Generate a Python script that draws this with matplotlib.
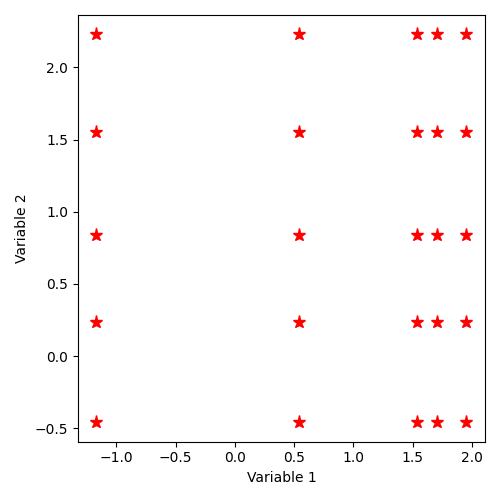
import numpy as np
import matplotlib
matplotlib.use("Agg")
import matplotlib.pyplot as plt

x_levels = [-1.17, 0.545, 1.534, 1.707, 1.955]
y_levels = [-0.458, 0.234, 0.837, 1.55, 2.228]

xs = [x for x in x_levels for y in y_levels]
ys = [y for x in x_levels for y in y_levels]

fig, ax = plt.subplots(figsize=(5, 5), dpi=100)
ax.plot(xs, ys, linestyle='none', marker='*', color='red', markersize=9.5)
ax.set_xlabel('Variable 1')
ax.set_ylabel('Variable 2')
fig.tight_layout()
fig.savefig('out.png', dpi=100)
